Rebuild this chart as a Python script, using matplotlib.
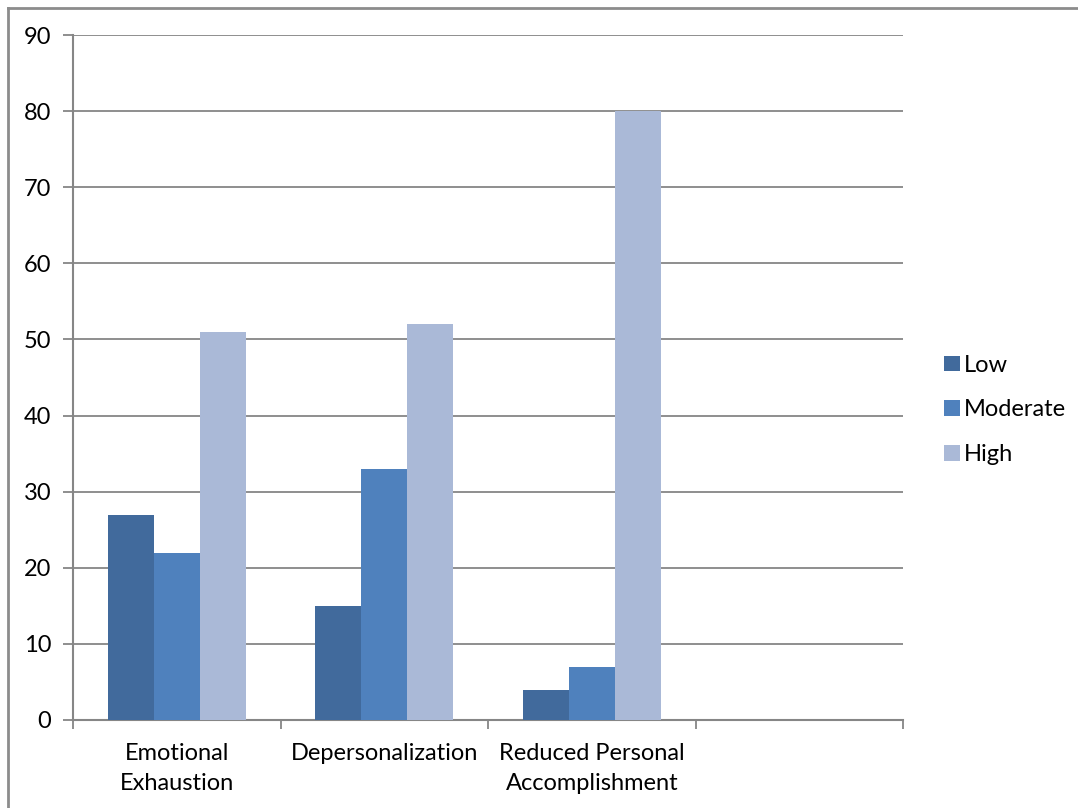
import numpy as np
import matplotlib
matplotlib.use("Agg")
import matplotlib.pyplot as plt
from matplotlib.lines import Line2D

# values
categories = ['Emotional\nExhaustion', 'Depersonalization', 'Reduced Personal\nAccomplishment', '']
low = [27, 15, 4]
moderate = [22, 33, 7]
high = [51, 52, 80]
series_names = ['Low', 'Moderate', 'High']
colors = ['#416A9C', '#4F81BD', '#AAB9D7']
yticks = list(range(0, 100, 10))

plt.rcParams['font.family'] = ['Lato', 'DejaVu Sans']

fig = plt.figure(figsize=(10.78, 8.08), dpi=100)
ax = fig.add_axes([73/1078, 1-720/808, 830/1078, 685/808])

x = np.arange(3)
w = 0.222
for i, (vals, name, c) in enumerate(zip([low, moderate, high], series_names, colors)):
    ax.bar(x + (i-1)*w, vals, w, color=c, label=name, zorder=3)

ax.set_xlim(-0.5, 3.5)
ax.set_ylim(0, 90)
ax.set_yticks(yticks)
ax.yaxis.grid(True, color='#868686', lw=1.3, zorder=0)

ax.set_xticks(range(4))
ax.set_xticklabels(categories, fontsize=17, linespacing=1.55)
ax.set_xticks(np.arange(-0.5, 4, 1), minor=True)
ax.tick_params(axis='x', which='major', length=0, pad=16.5)
ax.tick_params(axis='x', which='minor', length=6.5, width=1.3, color='#868686')
ax.tick_params(axis='y', length=7, width=1.3, color='#868686', labelsize=17, pad=8.5)

for s in ['top', 'right']:
    ax.spines[s].set_visible(False)
for s in ['left', 'bottom']:
    ax.spines[s].set_color('#868686')
    ax.spines[s].set_linewidth(1.5)

ax.legend(loc='center left', bbox_to_anchor=(1.024, 0.4526), frameon=False, fontsize=17,
          handlelength=0.65, handleheight=0.65, handletextpad=0.2, labelspacing=1.0)

# outer frame of the chart area
fig.add_artist(Line2D([8/1078, 8/1078], [0, 1-8/808], color='#8C8C8C', lw=2))
fig.add_artist(Line2D([8/1078, 1], [1-8/808, 1-8/808], color='#8C8C8C', lw=2))

fig.savefig('out.png', dpi=100)
